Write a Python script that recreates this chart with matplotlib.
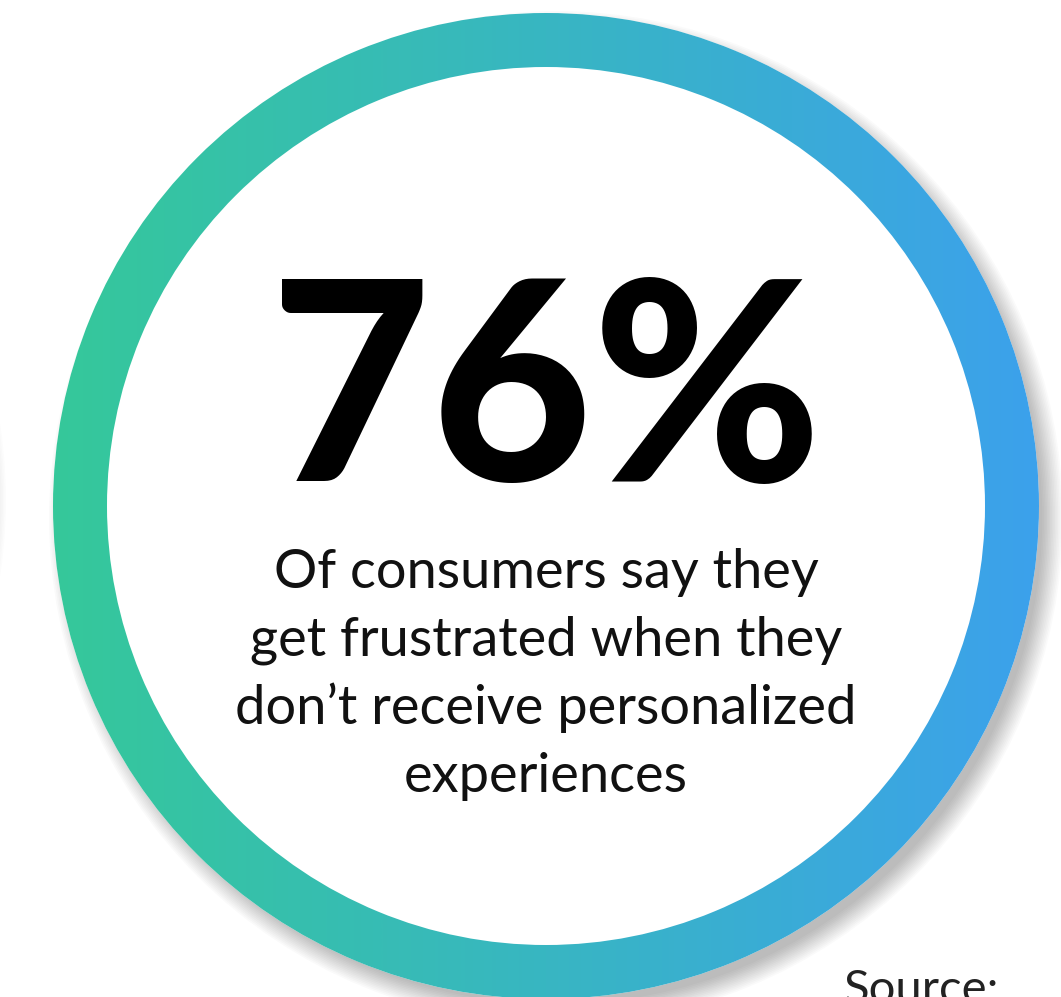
import numpy as np
import matplotlib; matplotlib.use("Agg")
import matplotlib.pyplot as plt
from matplotlib.patches import Circle, Wedge
from matplotlib.colors import LinearSegmentedColormap

# data
VALUE = 76
CAPTION = ["Of consumers say they", "get frustrated when they",
           "don\u2019t receive personalized", "experiences"]
SOURCE = "Source:"

W, H = 1061, 997
CX, CY, R, RING = 546, 506, 493, 54

fig = plt.figure(figsize=(W/100, H/100), dpi=100)
ax = fig.add_axes([0, 0, 1, 1])
ax.set_xlim(0, W); ax.set_ylim(H, 0); ax.set_aspect("auto"); ax.axis("off")
fig.patch.set_facecolor("white")

# soft shadow (offset right/down)
for i in range(14):
    ax.add_patch(Circle((CX+10, CY+12), R+14-i*1.6, color="#000000", alpha=0.018, lw=0, zorder=1))
# faint edge of neighbouring element at left
for i in range(6):
    ax.add_patch(Circle((-500, 500), 506-i*1.5, color="#000000", alpha=0.01, lw=0, zorder=1))

ax.add_patch(Circle((CX, CY), R, color="white", lw=0, zorder=2))

# gradient ring
cmap = LinearSegmentedColormap.from_list("g", ["#35C89A", "#38B6C2", "#3CA1EC"])
grad = np.linspace(0, 1, 512).reshape(1, -1)
im = ax.imshow(grad, cmap=cmap, extent=[CX-R, CX+R, CY+R, CY-R], aspect="auto", zorder=3)
ring = Wedge((CX, CY), R, 0, 360, width=RING, transform=ax.transData)
im.set_clip_path(ring)
ax.set_xlim(0, W); ax.set_ylim(H, 0)

ax.text(CX, 400, f"{VALUE}%", fontsize=200, fontweight="black", family=["Lato", "DejaVu Sans"],
        ha="center", va="center", color="black", zorder=4)
for i, line in enumerate(CAPTION):
    ax.text(CX, 572+i*68, line, fontsize=39, family=["Lato", "DejaVu Sans"], ha="center", va="center",
            color="#111111", zorder=4)
ax.text(843, 990, SOURCE, fontsize=34, family=["Lato", "DejaVu Sans"],
        ha="left", va="center", color="#222222", zorder=4)

fig.savefig("out.png", dpi=100, facecolor="white")
